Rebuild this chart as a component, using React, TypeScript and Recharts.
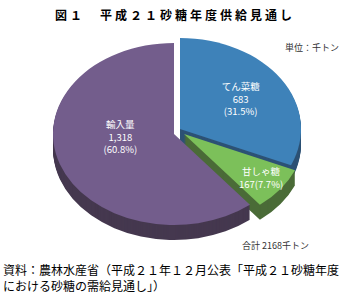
import React from 'react';
import { PieChart, Pie, Sector } from 'recharts';

const categories = ['てん菜糖', '甘しゃ糖', '輸入量'];
const values = [683, 167, 1318];
const title = '図１　平成２１砂糖年度供給見通し';
const unitLabel = '単位：千トン';
const totalLabel = '合計 2168千トン';
const sourceLines = [
  '資料：農林水産省（平成２１年１２月公表「平成２１砂糖年度',
  'における砂糖の需給見通し」）',
];

const TOP_COLORS = ['#3E82B9', '#7CC05A', '#735D8C'];
const SIDE_COLORS = ['#2D5275', '#4A6B37', '#45384F'];
const EXPLODE: [number, number][] = [[6, -5], [10, 0], [0, 0]];
const LABEL_RADIUS = [0.6, 0.8, 0.47];
const LABEL_SHIFT_Y = [0, 0, -11];
const LABEL_INLINE = [false, true, false];
const K = 0.752;
const DEPTH = 15;
const CX = 174;
const CY = 134;
const R = 121;
const FONT = '"Noto Sans CJK JP", "Noto Sans", sans-serif';

const total = values.reduce((a, b) => a + b, 0);
const data = categories.map((name, idx) => ({ name, value: values[idx], idx }));

const getIdx = (p: any) => (p.payload && p.payload.idx !== undefined ? p.payload.idx : p.idx ?? p.index ?? 0);

const TopShape = (props: any) => {
  const { cx, cy, innerRadius, outerRadius, startAngle, endAngle } = props;
  const i = getIdx(props);
  const [dx, dy] = EXPLODE[i];
  return (
    <g transform={`translate(${cx + dx},${cy + dy}) scale(1,${K})`}>
      <Sector cx={0} cy={0} innerRadius={innerRadius} outerRadius={outerRadius}
        startAngle={startAngle} endAngle={endAngle} fill={TOP_COLORS[i]} stroke="none" />
    </g>
  );
};

const SideShape = (props: any) => {
  const { cx, cy, innerRadius, outerRadius, startAngle, endAngle } = props;
  const i = getIdx(props);
  const [dx, dy] = EXPLODE[i];
  const layers = [];
  for (let d = DEPTH; d >= 1; d--) {
    layers.push(
      <g key={d} transform={`translate(${cx + dx},${cy + dy + d}) scale(1,${K})`}>
        <Sector cx={0} cy={0} innerRadius={innerRadius} outerRadius={outerRadius}
          startAngle={startAngle} endAngle={endAngle} fill={SIDE_COLORS[i]} stroke="none" />
      </g>
    );
  }
  return <g>{layers}</g>;
};

const renderLabel = (props: any) => {
  const { cx, cy, midAngle } = props;
  const i = getIdx(props);
  const [dx, dy] = EXPLODE[i];
  const rad = (-midAngle * Math.PI) / 180;
  const f = LABEL_RADIUS[i];
  const x = cx + dx + f * R * Math.cos(rad);
  const y = cy + dy + f * R * K * Math.sin(rad) + LABEL_SHIFT_Y[i];
  const v = values[i];
  const pct = `(${((v / total) * 100).toFixed(1)}%)`;
  const valStr = v.toLocaleString('en-US');
  const lines = LABEL_INLINE[i] ? [categories[i], `${valStr}${pct}`] : [categories[i], valStr, pct];
  const lh = 12.5;
  const y0 = y - ((lines.length - 1) * lh) / 2 + 3.5;
  return (
    <text x={x} y={y0} fill="#ffffff" fontSize={9.5} fontFamily={FONT} textAnchor="middle">
      {lines.map((t, k) => (
        <tspan key={k} x={x} y={y0 + k * lh}>{t}</tspan>
      ))}
    </text>
  );
};

export default function App() {
  return (
    <div style={{ position: 'absolute', left: 0, top: 0, width: 350, height: 296, background: '#ffffff' }}>
      <PieChart width={350} height={296} margin={{ top: 0, right: 0, bottom: 0, left: 0 }}>
        <Pie data={data} dataKey="value" nameKey="name" cx={CX} cy={CY} outerRadius={R}
          startAngle={90} endAngle={-270} stroke="none" shape={SideShape}
          isAnimationActive={false} />
        <Pie data={data} dataKey="value" nameKey="name" cx={CX} cy={CY} outerRadius={R}
          startAngle={90} endAngle={-270} stroke="none" shape={TopShape}
          label={renderLabel} labelLine={false} isAnimationActive={false} />
      </PieChart>
      <svg width={350} height={296} style={{ position: 'absolute', left: 0, top: 0, pointerEvents: 'none' }}>
        <text x={55} y={20} fontSize={12} fontWeight="bold" letterSpacing={3} fontFamily={FONT} fill="#000">{title}</text>
        <text x={285} y={50.5} fontSize={9} fontFamily={FONT} fill="#333">{unitLabel}</text>
        <text x={242} y={248.5} fontSize={9} fontFamily={FONT} fill="#333">{totalLabel}</text>
        {sourceLines.map((t, k) => (
          <text key={k} x={3} y={275 + k * 16} fontSize={12} fontFamily={FONT} fill="#000">{t}</text>
        ))}
      </svg>
    </div>
  );
}
